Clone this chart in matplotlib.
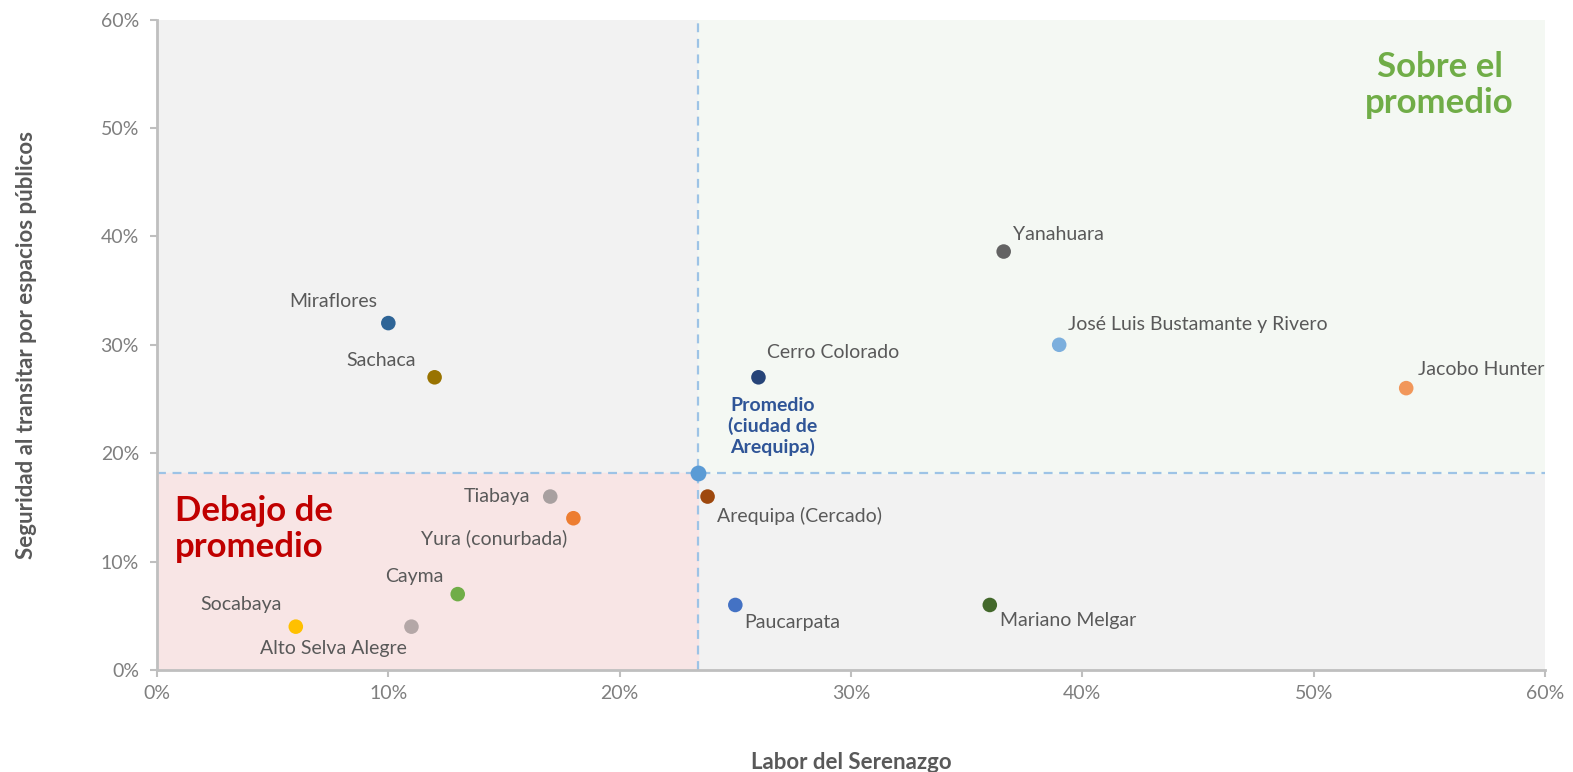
import matplotlib.pyplot as plt
from matplotlib.ticker import PercentFormatter
from matplotlib.patches import Rectangle

plt.rcParams['font.family'] = ['Lato', 'DejaVu Sans']

# datos por distrito (x: labor del serenazgo, y: seguridad en espacios publicos)
distritos = ["Miraflores", "Sachaca", "Tiabaya", "Yura (conurbada)", "Cayma",
             "Socabaya", "Alto Selva Alegre", "Arequipa (Cercado)", "Paucarpata",
             "Mariano Melgar", "Cerro Colorado", "Yanahuara",
             "José Luis Bustamante y Rivero", "Jacobo Hunter"]
serenazgo = [0.10, 0.12, 0.17, 0.18, 0.13, 0.06, 0.11, 0.238, 0.25,
             0.36, 0.26, 0.366, 0.39, 0.54]
seguridad = [0.32, 0.27, 0.16, 0.14, 0.07, 0.04, 0.04, 0.16, 0.06,
             0.06, 0.27, 0.386, 0.30, 0.26]
colores = ["#2e6496", "#997300", "#a8a0a0", "#ed7d31", "#70ad47", "#ffc000",
           "#b4a7a7", "#9e480e", "#4472c4", "#43682b", "#264478", "#636363",
           "#7cafdd", "#f1975a"]

prom_x = 0.234
prom_y = 0.182

# posicion de etiquetas (pixeles respecto al punto)
offsets = [(-55, 22, "center"), (-53, 17, "center"), (-20, 0, "right"),
           (-6, -20, "right"), (-43, 18, "center"), (-55, 22, "center"),
           (-78, -22, "center"), (9, -19, "left"), (9, -18, "left"),
           (10, -16, "left"), (9, 25, "left"), (9, 17, "left"),
           (9, 20, "left"), (12, 19, "left")]

fig = plt.figure(figsize=(15.73, 7.72), dpi=100)
ax = fig.add_axes([0.0998, 0.1321, 0.8824, 0.8426])
ax.set_xlim(0, 0.6)
ax.set_ylim(0, 0.6)
ax.set_facecolor("#f2f2f2")

# cuadrantes
ax.add_patch(Rectangle((prom_x, prom_y), 0.6 - prom_x, 0.6 - prom_y,
                       color="#f4f8f3", zorder=0))
ax.add_patch(Rectangle((0, 0), prom_x, prom_y, color="#f8e5e5", zorder=0))
ax.axvline(prom_x, color="#9dc3e6", ls=(0, (4, 3)), lw=1.6, zorder=1)
ax.axhline(prom_y, color="#9dc3e6", ls=(0, (4, 3)), lw=1.6, zorder=1)

ax.scatter(serenazgo, seguridad, s=110, c=colores, zorder=3, linewidths=0)
ax.scatter([prom_x], [prom_y], s=130, c="#5b9bd5", zorder=3, linewidths=0)

for nombre, x, y, (dx, dy, ha) in zip(distritos, serenazgo, seguridad, offsets):
    ax.annotate(nombre, (x, y), xytext=(dx, dy), textcoords="offset pixels",
                ha=ha, va="center", fontsize=14, color="#595959", zorder=4)

ax.annotate("Promedio\n(ciudad de\nArequipa)", (prom_x, prom_y), xytext=(74, 46),
            textcoords="offset pixels", ha="center", va="center",
            fontsize=14, fontweight="bold", color="#2f5597", linespacing=1.2)

ax.text(0.924, 0.899, "Sobre el\npromedio", transform=ax.transAxes, ha="center",
        va="center", fontsize=25, fontweight="bold", color="#70ad47",
        linespacing=1.15)
ax.text(0.013, 0.217, "Debajo de\npromedio", transform=ax.transAxes, ha="left",
        va="center", fontsize=25, fontweight="bold", color="#c00000",
        linespacing=1.15)

ax.set_xticks([0, 0.1, 0.2, 0.3, 0.4, 0.5, 0.6])
ax.set_yticks([0, 0.1, 0.2, 0.3, 0.4, 0.5, 0.6])
ax.xaxis.set_major_formatter(PercentFormatter(1.0, decimals=0))
ax.yaxis.set_major_formatter(PercentFormatter(1.0, decimals=0))
ax.tick_params(colors="#bfbfbf", labelcolor="#7f7f7f", labelsize=14,
               length=5, width=1.5)
ax.tick_params(axis="y", pad=8)
ax.tick_params(axis="x", pad=6)
for s in ["top", "right"]:
    ax.spines[s].set_visible(False)
for s in ["left", "bottom"]:
    ax.spines[s].set_color("#bfbfbf")
    ax.spines[s].set_linewidth(2)

ax.set_xlabel("Labor del Serenazgo", fontsize=16, fontweight="bold",
              color="#595959", labelpad=36)
ax.set_ylabel("Seguridad al transitar por espacios públicos", fontsize=16,
              fontweight="bold", color="#595959", labelpad=46)

fig.savefig("out.png", dpi=100)
